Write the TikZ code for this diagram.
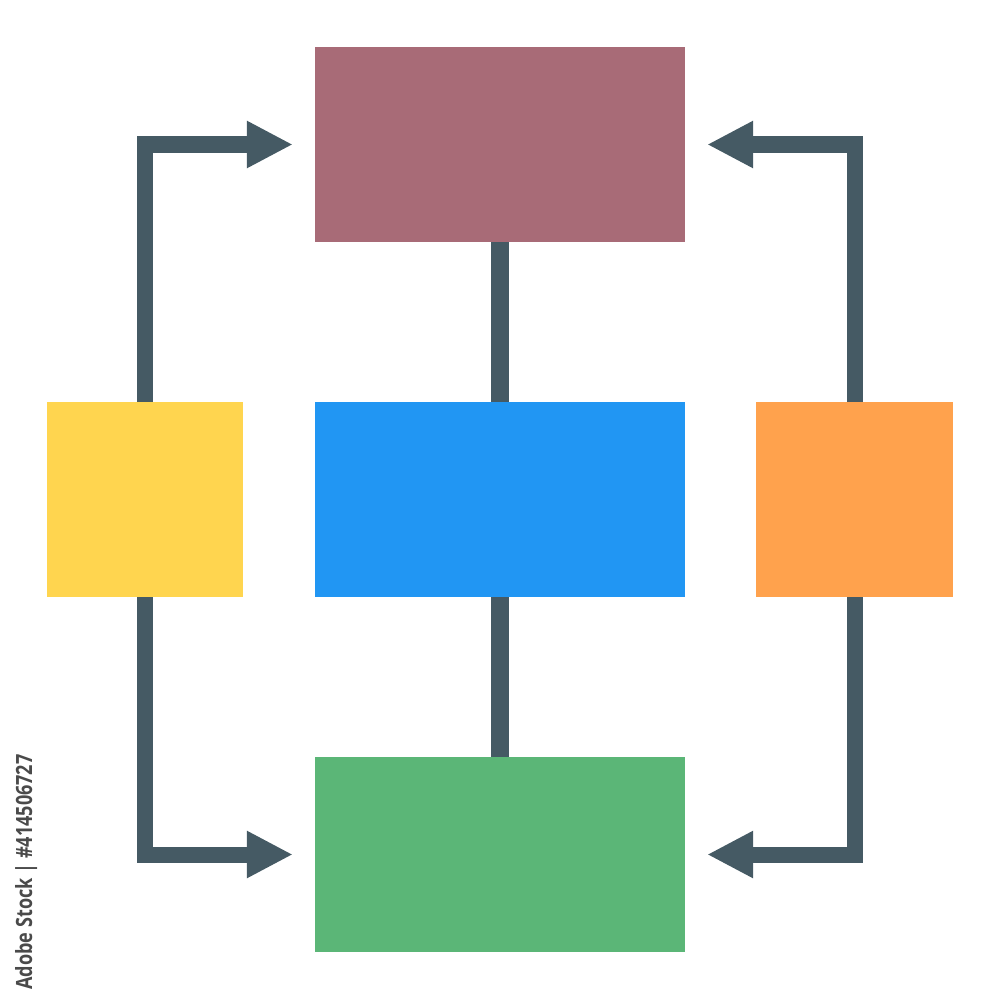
\documentclass[tikz,border=0pt]{standalone}
\usepackage{fontspec}
\setsansfont{Open Sans}
\usetikzlibrary{arrows.meta}
\definecolor{cTop}{HTML}{A86B77}
\definecolor{cMid}{HTML}{2196F3}
\definecolor{cBot}{HTML}{5BB677}
\definecolor{cYel}{HTML}{FFD54F}
\definecolor{cOra}{HTML}{FFA24D}
\definecolor{cLine}{HTML}{455A64}
\definecolor{cText}{HTML}{4A4A4A}
\begin{document}
\begin{tikzpicture}[x=0.01cm,y=-0.01cm,
  wide/.style={rectangle, inner sep=0pt, outer sep=0pt, minimum width=3.7cm, minimum height=1.95cm},
  sq/.style={rectangle, inner sep=0pt, outer sep=0pt, minimum width=1.96cm, minimum height=1.95cm},
  conn/.style={draw=cLine, line width=0.16cm, line join=miter},
  arr/.style={conn, -{Triangle[length=0.46cm,width=0.44cm]}, shorten >=0.22cm}]
\useasboundingbox (0,0) rectangle (1000,1000);
\node[wide, fill=cTop] (top) at (500,144.5) {};
\node[wide, fill=cMid] (mid) at (500,499.5) {};
\node[wide, fill=cBot] (bot) at (500,854.5) {};
\node[sq, fill=cYel] (yel) at (145,499.5) {};
\node[sq, fill=cOra] (ora) at (854.5,499.5) {};
\draw[conn, line width=0.185cm] (top.south) -- (mid.north);
\draw[conn, line width=0.185cm] (mid.south) -- (bot.north);
\draw[arr] (yel.north) |- (top.west);
\draw[arr] (ora.north) |- (top.east);
\draw[arr] (yel.south) |- (bot.west);
\draw[arr] (ora.south) |- (bot.east);
\node[rotate=90, text=cText, inner sep=0pt, anchor=base] (wm) at (32,872) {\resizebox{2.35cm}{0.17cm}{\sffamily\bfseries Adobe Stock | \#414506727}};
\end{tikzpicture}
\end{document}
